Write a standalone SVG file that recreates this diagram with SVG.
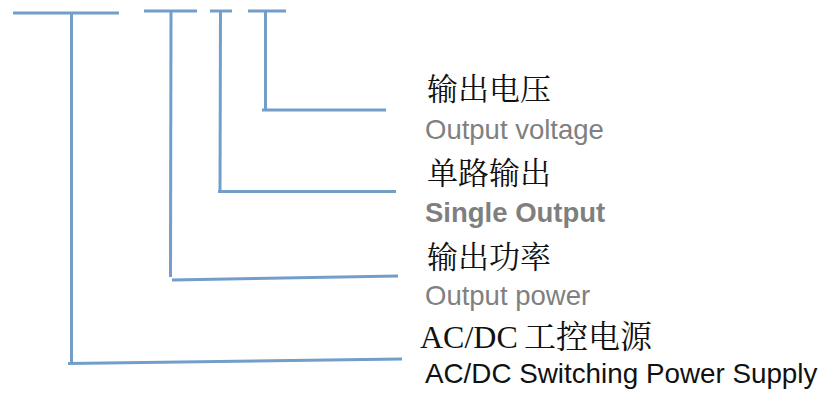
<svg xmlns="http://www.w3.org/2000/svg" width="822" height="396" viewBox="0 0 822 396">
  <style>
    .ln { stroke: #729ec9; stroke-width: 3; fill: none; stroke-linecap: butt; }
    .cn { font-family: "Liberation Serif", "Noto Serif CJK SC", "Noto Sans CJK SC", serif; font-size: 31px; fill: #111111; }
    .en { font-family: "Liberation Sans", Arial, sans-serif; font-size: 27.5px; fill: #808080; }
    .enb { font-family: "Liberation Sans", Arial, sans-serif; font-size: 27.5px; font-weight: bold; fill: #7f7f7f; }
    .enk { font-family: "Liberation Sans", Arial, sans-serif; font-size: 27.8px; fill: #111111; }
    .ser { font-family: "Liberation Serif", "Times New Roman", serif; font-size: 32px; fill: #111111; }
  </style>
  <rect width="822" height="396" fill="#ffffff"/>
  <g id="connectors">
    <line class="ln" x1="13" y1="13" x2="119" y2="13"/>
    <line class="ln" x1="71.5" y1="13" x2="71.5" y2="363"/>
    <line class="ln" x1="68" y1="363.5" x2="402" y2="359"/>
    <line class="ln" x1="144" y1="11" x2="197" y2="11"/>
    <line class="ln" x1="171" y1="11" x2="170.5" y2="277"/>
    <line class="ln" x1="172" y1="280" x2="398" y2="276"/>
    <line class="ln" x1="210" y1="11" x2="232" y2="11"/>
    <line class="ln" x1="220.5" y1="11" x2="220" y2="191"/>
    <line class="ln" x1="218" y1="191.5" x2="396" y2="191.5"/>
    <line class="ln" x1="248" y1="11" x2="286" y2="11"/>
    <line class="ln" x1="265.5" y1="11" x2="265.5" y2="110"/>
    <line class="ln" x1="262" y1="110" x2="386" y2="110"/>
  </g>
  <g id="node-voltage">
    <text class="cn" x="427" y="100">输出电压</text>
    <text class="en" x="425" y="139">Output voltage</text>
  </g>
  <g id="node-single">
    <text class="cn" x="427" y="184">单路输出</text>
    <text class="enb" x="425" y="222">Single Output</text>
  </g>
  <g id="node-power">
    <text class="cn" x="427" y="268">输出功率</text>
    <text class="en" x="425" y="305">Output power</text>
  </g>
  <g id="node-acdc">
    <text class="ser" x="420" y="348">AC/DC <tspan class="cn" x="524" style="font-size:32px">工控电源</tspan></text>
    <text class="enk" x="425" y="383">AC/DC Switching Power Supply</text>
  </g>
</svg>
